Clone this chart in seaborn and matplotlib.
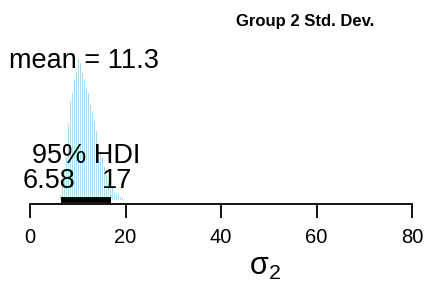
import numpy as np
import pandas as pd
import matplotlib
matplotlib.use('Agg')
import matplotlib.pyplot as plt
import seaborn as sns

# posterior sample histogram for sigma_2 (bin centres and heights)
bin_centers = [5.8, 6.22, 6.64, 7.06, 7.48, 7.9, 8.32, 8.74, 9.16, 9.58, 10.0, 10.42,
               10.84, 11.26, 11.68, 12.1, 12.52, 12.94, 13.36, 13.78, 14.2, 14.62,
               15.04, 15.46, 15.88, 16.3, 16.72, 17.14, 17.56, 17.98, 18.4, 18.82,
               19.24, 19.66, 20.08]
bin_heights = [2, 6, 14, 28, 45, 78, 100, 108, 122, 130, 142, 138,
               128, 122, 112, 108, 96, 90, 80, 70, 58, 48,
               44, 34, 26, 20, 16, 14, 9, 7, 7, 4,
               3, 2, 1]
bin_width = 0.42
mean_val = 11.3
hdi = [6.58, 17]
x_ticks = [0, 20, 40, 60, 80]

sns.set_style('ticks')
plt.rcParams['font.family'] = ['Liberation Sans', 'DejaVu Sans']
plt.rcParams['mathtext.fontset'] = 'custom'
plt.rcParams['mathtext.rm'] = 'Liberation Sans'
plt.rcParams['text.color'] = 'black'
plt.rcParams['xtick.color'] = 'black'
plt.rcParams['axes.edgecolor'] = 'black'

fig = plt.figure(figsize=(4.24, 2.85), dpi=100)
ax = fig.add_axes([30 / 424, (285 - 204) / 285, 382 / 424, 164 / 285])

df = pd.DataFrame({'sigma': bin_centers, 'h': bin_heights})
edges = [round(bin_centers[0] - bin_width / 2 + i * bin_width, 3) for i in range(len(bin_centers) + 1)]
sns.histplot(data=df, x='sigma', weights='h', bins=edges, color='#87CEEB',
             edgecolor='white', linewidth=0.9, alpha=1, ax=ax)

# HDI bar
ax.plot(hdi, [0, 0], color='black', lw=4.2, solid_capstyle='butt')

ax.text(mean_val, 131.5, 'mean = 11.3', ha='center', va='baseline', fontsize=19.5)
ax.text(np.mean(hdi), 36.5, '95% HDI', ha='center', va='baseline', fontsize=19.5)
ax.text(4.0, 11.5, '6.58', ha='center', va='baseline', fontsize=19.5)
ax.text(18.3, 11.5, '17', ha='center', va='baseline', fontsize=19.5)

ax.set_xlim(0, 80)
ax.set_ylim(-4.5, 159.5)
ax.set_xticks(x_ticks)
ax.set_yticks([])
ax.set_xlabel('')
ax.set_ylabel('')
sns.despine(ax=ax, left=True)
ax.spines['bottom'].set_linewidth(1.3)
ax.tick_params(axis='x', length=10, width=1.3, pad=7, labelsize=14.5, labelcolor='black')
for t in ax.get_xticklabels():
    t.set_clip_on(False)

fig.text(305 / 424, (285 - 26) / 285, 'Group 2 Std. Dev.', ha='center', va='baseline',
         fontsize=12, fontweight='bold')
fig.text(265 / 424, (285 - 275) / 285, r'σ$_{\mathrm{2}}$', ha='center', va='baseline', fontsize=22)

fig.savefig('out.png', dpi=100)
